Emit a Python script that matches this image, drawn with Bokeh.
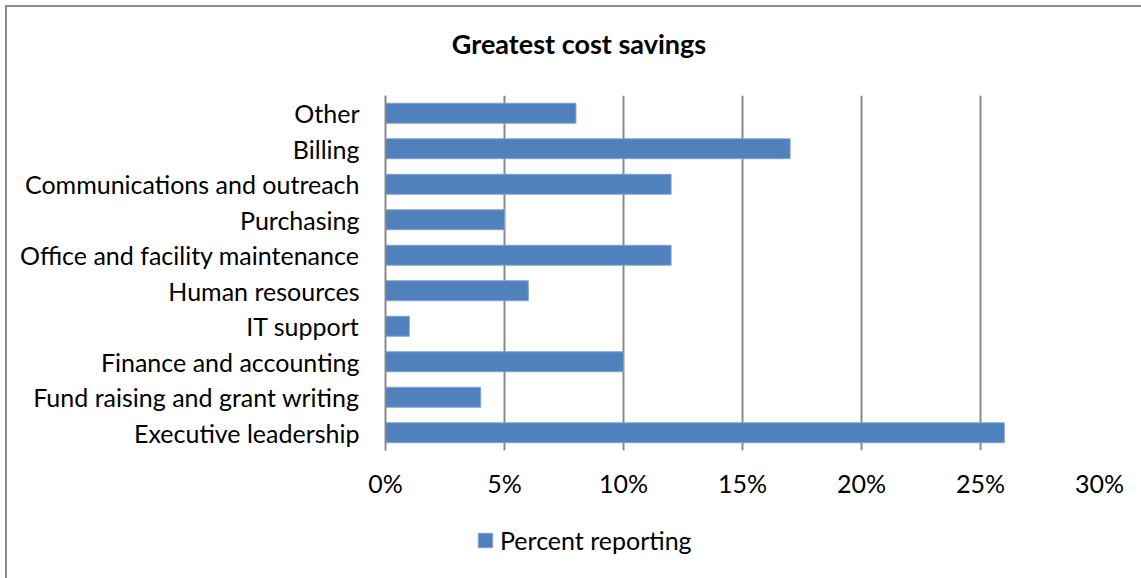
from bokeh.plotting import figure
from bokeh.layouts import column
from bokeh.models import (FactorRange, Range1d, FixedTicker, PrintfTickFormatter,
                          Legend, LegendItem, ColumnDataSource, Label)
from bokeh.embed import file_html
from bokeh.resources import INLINE

# ---- data ----
categories = ["Other", "Billing", "Communications and outreach", "Purchasing",
              "Office and facility maintenance", "Human resources", "IT support",
              "Finance and accounting", "Fund raising and grant writing",
              "Executive leadership"]
percent_reporting = [8, 17, 12, 5, 12, 6, 1, 10, 4, 26]
x_ticks = [0, 5, 10, 15, 20, 25, 30]
title_text = "Greatest cost savings"
series_name = "Percent reporting"

FONT = "Lato"
FS = "25px"
GRID = "#898989"
BAR = "#4F81BD"
BAR_EDGE = "#7EA2CF"
LEFT, RIGHT = 385, 42

factors = list(reversed(categories))
src = ColumnDataSource(dict(cat=categories, val=percent_reporting))

# ---- title strip ----
t = figure(width=1141, height=95, x_range=Range1d(0, 1), y_range=Range1d(0, 1),
           x_axis_type=None, y_axis_type=None, title=None,
           output_backend="svg", toolbar_location=None,
           min_border_left=LEFT, min_border_right=RIGHT,
           min_border_top=0, min_border_bottom=0)
t.grid.visible = False
t.outline_line_color = None
t.background_fill_color = None
t.border_fill_color = None
t.add_layout(Label(x=193.5, y=52, x_units="screen", y_units="screen",
                   text=title_text, text_align="center", text_baseline="alphabetic",
                   text_font=FONT, text_font_size="27px", text_font_style="bold",
                   text_color="black"))

# ---- main chart ----
p = figure(width=1141, height=420, title=None,
           y_range=FactorRange(factors=factors),
           x_range=Range1d(x_ticks[0], x_ticks[-1]),
           output_backend="svg", toolbar_location=None,
           min_border_left=LEFT, min_border_right=RIGHT,
           min_border_top=0, min_border_bottom=65)

r = p.hbar(y="cat", right="val", left=0, height=0.56, source=src,
           fill_color=BAR, line_color=BAR_EDGE, line_width=1)

p.xgrid.ticker = FixedTicker(ticks=x_ticks)
p.xgrid.grid_line_color = GRID
p.xgrid.grid_line_width = 2
p.ygrid.grid_line_color = None

p.xaxis.ticker = FixedTicker(ticks=x_ticks)
p.xaxis.formatter = PrintfTickFormatter(format="%d%%")
p.xaxis.axis_line_color = None
p.xaxis.major_tick_line_color = None
p.xaxis.minor_tick_line_color = None
p.xaxis.major_tick_out = 0
p.xaxis.major_label_text_font = FONT
p.xaxis.major_label_text_font_size = FS
p.xaxis.major_label_text_color = "black"
p.xaxis.major_label_standoff = 17

p.yaxis.axis_line_color = GRID
p.yaxis.axis_line_width = 2
p.yaxis.major_tick_line_color = None
p.yaxis.minor_tick_line_color = None
p.yaxis.major_tick_out = 0
p.yaxis.major_label_text_font = FONT
p.yaxis.major_label_text_font_size = FS
p.yaxis.major_label_text_color = "black"
p.yaxis.major_label_standoff = 26

p.outline_line_color = None
p.background_fill_color = "white"
p.border_fill_color = None

# ---- legend strip (same series styling; renderer hidden so only the key shows) ----
q = figure(width=1141, height=63, title=None,
           x_range=Range1d(x_ticks[0], x_ticks[-1]), y_range=FactorRange(factors=factors),
           x_axis_type=None, y_axis_type=None,
           output_backend="svg", toolbar_location=None,
           min_border_left=LEFT, min_border_right=RIGHT,
           min_border_top=0, min_border_bottom=0)
q.grid.visible = False
q.outline_line_color = None
q.background_fill_color = None
q.border_fill_color = None
lr = q.hbar(y="cat", right="val", left=0, height=0.56, source=src,
            fill_color=BAR, line_color=BAR_EDGE, line_width=1)
lr.visible = False

legend = Legend(items=[LegendItem(label=series_name, renderers=[lr])],
                location=(91, 23), orientation="horizontal",
                glyph_width=18, glyph_height=18, label_standoff=6,
                padding=0, spacing=0, margin=0, border_line_color=None,
                background_fill_alpha=0, inactive_fill_alpha=0,
                label_text_font=FONT, label_text_font_size=FS,
                label_text_color="black")
q.add_layout(legend)

layout = column(t, p, q, spacing=0,
                styles={"background-color": "white",
                        "box-shadow": "inset 5px 5px 0 0 white, inset 7px 7px 0 0 #8a8a8a"})

open("out.html", "w").write(file_html(layout, INLINE))
